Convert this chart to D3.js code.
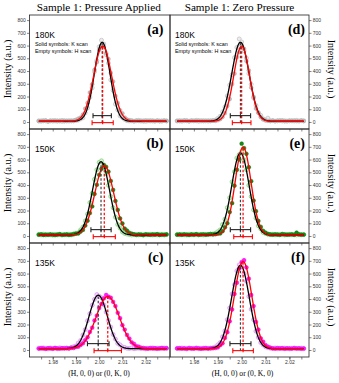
<!DOCTYPE html>
<html><head><meta charset="utf-8">
<script src="https://cdn.jsdelivr.net/npm/d3@7/dist/d3.min.js"></script>
<style>body{margin:0;background:#fff}svg{display:block}</style>
</head><body>
<svg id="chart" width="339" height="383"></svg>
<script>
// ---------------- data ----------------
const columnTitles = ["Sample 1: Pressure Applied", "Sample 1: Zero Pressure"];
const panelLetters = ["(a)", "(b)", "(c)", "(d)", "(e)", "(f)"];
const temperatures = ["180K", "150K", "135K", "180K", "150K", "135K"];
const legendLines = ["Solid symbols: K scan", "Empty symbols: H scan"];
const yTickValues = [0, 100, 200, 300, 400, 500, 600, 700, 800];
const xTickValues = [1.98, 1.99, 2.00, 2.01, 2.02];
const xMinorTicks = [1.975, 1.98, 1.985, 1.99, 1.995, 2.00, 2.005, 2.01, 2.015, 2.02, 2.025, 2.03];
const xTitle = "(H, 0, 0) or (0, K, 0)";
const yTitle = "Intensity (a.u.)";

// scan positions (left column / right column)
const qLeft = [1.974,1.975,1.976,1.977,1.978,1.979,1.980,1.981,1.982,1.983,1.984,1.985,1.986,1.987,1.988,1.989,
  1.990,1.991,1.992,1.993,1.994,1.995,1.996,1.997,1.998,1.999,2.000,2.001,2.002,2.003,2.004,2.005,2.006,2.007,2.008,2.009,
  2.010,2.011,2.012,2.013,2.014,2.015,2.016,2.017,2.018,2.019,2.020,2.021,2.022,2.023,2.024,2.025,2.026,2.027,2.028,2.029];
const qRight = [1.973,1.974,1.975,1.976,1.977,1.978,1.979,1.980,1.981,1.982,1.983,1.984,1.985,1.986,1.987,1.988,1.989,
  1.990,1.991,1.992,1.993,1.994,1.995,1.996,1.997,1.998,1.999,2.000,2.001,2.002,2.003,2.004,2.005,2.006,2.007,2.008,2.009,
  2.010,2.011,2.012,2.013,2.014,2.015,2.016,2.017,2.018,2.019,2.020,2.021,2.022,2.023,2.024,2.025,2.026];

// H scans (empty symbols)
const hScanA = [9,6,11,8,4,10,7,12,6,9,5,11,8,7,10,9,
  12,15,24,33,72,110,195,268,395,482,590,642,612,528,462,330,248,140,96,48,34,20,10,
  8,11,6,9,13,7,10,5,9,12,8,6,10,9,7,11,8];
const hScanB = [12,9,14,8,11,10,7,13,9,12,8,11,10,14,9,
  16,22,25,48,70,118,172,262,335,445,520,578,590,548,490,398,310,222,148,90,62,32,20,15,
  11,8,13,10,9,12,7,11,10,13,8,12,9,11,10,8,12];
const hScanC = [14,10,16,12,9,15,11,13,10,17,12,14,
  15,13,20,26,32,55,74,118,160,230,285,352,398,435,422,410,355,298,232,180,122,86,52,40,24,20,14,
  12,16,10,13,15,11,14,9,13,12,16,10,14,12,11,15,13];
const hScanD = [8,11,6,9,12,7,10,9,13,6,8,11,9,7,
  10,12,15,28,45,80,118,205,290,372,505,585,652,628,560,502,380,296,188,130,74,52,25,18,30,9,
  11,7,9,12,8,10,6,9,11,8,13,7,10,9];
const hScanE = [12,9,13,10,8,14,11,9,12,10,13,8,11,12,
  14,16,22,34,48,90,132,222,300,425,505,612,640,662,598,520,398,310,205,140,80,55,28,20,14,
  11,13,9,12,10,14,8,11,13,10,12,9,14,11,11];
const hScanF = [13,10,15,12,9,14,11,13,16,10,12,14,11,13,
  15,17,24,40,58,104,150,238,330,440,512,622,668,655,600,540,420,320,238,148,100,58,40,25,18,14,
  12,15,10,13,11,14,12,9,13,15,11,12,14,10];

// K scans (solid symbols)
const kScanA = [7,10,8,12,6,9,11,7,10,8,13,6,9,11,8,10,
  17,26,35,58,105,150,232,296,410,470,566,598,590,540,495,385,318,205,150,92,68,35,20,14,
  9,7,11,8,10,6,12,9,7,10,8,11,6,9,10,8];
const kScanB = [10,13,8,11,9,12,10,7,11,14,9,10,12,8,11,
  14,18,20,35,48,82,120,180,232,330,402,480,528,558,542,505,432,362,275,205,138,98,58,42,25,18,13,
  9,12,10,8,13,11,9,12,10,14,8,11,10,12];
const kScanC = [11,15,12,9,14,13,10,16,12,11,14,13,
  14,12,17,16,24,26,40,52,78,100,142,175,232,270,330,362,405,432,418,410,378,345,292,250,195,160,118,90,60,48,30,26,18,15,
  13,11,15,12,14,10,13,16,12,14];
const kScanD = [9,7,10,12,8,6,11,9,8,12,10,7,9,11,8,
  10,9,14,22,40,70,125,180,298,380,510,548,602,575,478,405,270,198,105,72,38,20,12,9,
  8,11,7,10,9,12,6,9,10,8,11,7,9,12,8];
const kScanE = [10,12,9,13,11,8,12,10,14,9,11,13,10,12,15,
  12,14,18,20,38,68,100,188,258,395,520,600,725,690,645,540,430,278,195,118,72,40,26,16,
  12,10,13,11,9,14,12,10,11,13,9,26,12,10,11];
const kScanF = [12,14,11,13,10,15,12,11,14,13,10,12,15,11,13,
  14,16,20,38,52,95,140,225,318,440,528,640,690,705,648,560,432,345,220,160,92,65,38,26,18,
  13,11,15,12,14,10,13,12,11,14,12,13,10,12];

// Gaussian fit parameters (black = H fit, red = K fit)
const fitCenterH = [2.0013, 2.0008, 1.9996, 1.9995, 1.9995, 1.9995];
const fitPeakH   = [620, 575, 420, 620, 645, 655];
const fitFwhmH   = [0.0079, 0.0087, 0.0093, 0.0085, 0.0085, 0.0088];
const fitCenterK = [2.0015, 2.0022, 2.0037, 2.0000, 2.0006, 2.0006];
const fitPeakK   = [590, 545, 410, 590, 690, 685];
const fitFwhmK   = [0.0091, 0.0095, 0.0118, 0.0078, 0.0078, 0.0086];
const fitBase    = [6, 8, 10, 6, 8, 10];
const barLevelH = 50, barLevelK = -5;

const hScans = [hScanA, hScanB, hScanC, hScanD, hScanE, hScanF];
const kScans = [kScanA, kScanB, kScanC, kScanD, kScanE, kScanF];

// ---------------- styles ----------------
const rowStyles = [
  {hFill: "#ececec", hStroke: "#c4c4c4", kFill: "#bdbdbd", kStroke: "#a8a8a8"},
  {hFill: "#d4f2cc", hStroke: "#86d47e", kFill: "#148c14", kStroke: "#0a6e0a"},
  {hFill: "#f3d2fb", hStroke: "#dc96f0", kFill: "#ff1aff", kStroke: "#e600e6"}
];
const serif = "'Liberation Serif','Times New Roman',serif";
const sans = "'Liberation Sans',Arial,sans-serif";

// ---------------- layout ----------------
const svg = d3.select("#chart");
const colRange = [[29.5, 170], [170, 309]];
const colDomain = [[1.970, 2.0305], [1.970, 2.0282]];
const rowTop = [15, 129, 243];
const panelH = 114;
const yDomain = [-55, 840];
const scans = [qLeft, qRight];

function gauss(q, c, a, f, b) {
  return b + a * Math.exp(-4 * Math.LN2 * (q - c) * (q - c) / (f * f));
}

for (let col = 0; col < 2; col++) {
  const x = d3.scaleLinear().domain(colDomain[col]).range(colRange[col]);
  const q = scans[col];
  // column title
  svg.append("text")
    .attr("x", (colRange[col][0] + colRange[col][1]) / 2 - (col === 0 ? 1 : 0))
    .attr("y", 11)
    .attr("text-anchor", "middle")
    .attr("font-family", serif).attr("font-size", 11.2)
    .text(columnTitles[col]);

  for (let row = 0; row < 3; row++) {
    const p = col * 3 + row;
    const st = rowStyles[row];
    const y0 = rowTop[row];
    const y = d3.scaleLinear().domain(yDomain).range([y0 + panelH, y0]);
    const g = svg.append("g");

    // frame
    g.append("rect")
      .attr("x", colRange[col][0]).attr("y", y0)
      .attr("width", colRange[col][1] - colRange[col][0]).attr("height", panelH)
      .attr("fill", "none").attr("stroke", "#222").attr("stroke-width", 0.8);

    // y axis
    const yAxis = (col === 0 ? d3.axisLeft(y) : d3.axisRight(y))
      .tickValues(yTickValues).tickSize(2.5).tickPadding(1.2);
    const ya = g.append("g")
      .attr("transform", `translate(${col === 0 ? colRange[0][0] : colRange[1][1]},0)`)
      .call(yAxis);
    ya.select(".domain").remove();
    ya.selectAll("line").attr("stroke", "#333").attr("stroke-width", 0.6);
    ya.selectAll("text").attr("font-family", sans).attr("font-size", 5).attr("fill", "#333");

    // x ticks at bottom of every panel
    const xa = g.append("g")
      .attr("transform", `translate(0,${y0 + panelH})`)
      .call(d3.axisBottom(x).tickValues(xMinorTicks.filter(v => v <= colDomain[col][1]))
        .tickSize(2.5).tickFormat(""));
    xa.select(".domain").remove();
    xa.selectAll("line").attr("stroke", "#333").attr("stroke-width", 0.6);
    if (row === 2) {
      const xl = g.append("g")
        .attr("transform", `translate(0,${y0 + panelH})`)
        .call(d3.axisBottom(x).tickValues(xTickValues).tickSize(2.5).tickPadding(0.8)
          .tickFormat(d3.format(".2f")));
      xl.select(".domain").remove();
      xl.selectAll("line").attr("stroke", "#333").attr("stroke-width", 0.6);
      xl.selectAll("text").attr("font-family", sans).attr("font-size", 5).attr("fill", "#333");
    }

    // y title
    const yc = y0 + panelH / 2 - 3;
    if (col === 0) {
      g.append("text").attr("transform", `translate(11,${yc}) rotate(-90)`)
        .attr("text-anchor", "middle").attr("font-family", serif).attr("font-size", 10)
        .text(yTitle);
    } else {
      g.append("text").attr("transform", `translate(328,${yc}) rotate(90)`)
        .attr("text-anchor", "middle").attr("font-family", serif).attr("font-size", 10)
        .text(yTitle);
    }

    // points: H (empty) then K (solid)
    g.append("g").selectAll("circle").data(q.map((v, i) => [v, hScans[p][i]]))
      .join("circle")
      .attr("cx", d => x(d[0])).attr("cy", d => y(d[1])).attr("r", 2)
      .attr("fill", st.hFill).attr("stroke", st.hStroke).attr("stroke-width", 0.8);
    g.append("g").selectAll("circle").data(q.map((v, i) => [v, kScans[p][i]]))
      .join("circle")
      .attr("cx", d => x(d[0])).attr("cy", d => y(d[1])).attr("r", 1.9)
      .attr("fill", st.kFill).attr("stroke", st.kStroke).attr("stroke-width", 0.5);

    // fit curves
    const qFine = d3.range(q[0], q[q.length - 1] + 1e-9, 0.0002);
    const line = d3.line().x(d => x(d[0])).y(d => y(d[1]));
    g.append("path")
      .attr("d", line(qFine.map(v => [v, gauss(v, fitCenterH[p], fitPeakH[p], fitFwhmH[p], fitBase[p])])))
      .attr("fill", "none").attr("stroke", "#000").attr("stroke-width", 1.3);
    g.append("path")
      .attr("d", line(qFine.map(v => [v, gauss(v, fitCenterK[p], fitPeakK[p], fitFwhmK[p], fitBase[p])])))
      .attr("fill", "none").attr("stroke", "#ff0000").attr("stroke-width", 1.3);

    // dashed centre lines
    g.append("line")
      .attr("x1", x(fitCenterH[p])).attr("x2", x(fitCenterH[p]))
      .attr("y1", y(barLevelK)).attr("y2", y(fitPeakH[p] + fitBase[p]))
      .attr("stroke", "#444").attr("stroke-width", 1.2).attr("stroke-dasharray", "2.5,1.8");
    g.append("line")
      .attr("x1", x(fitCenterK[p])).attr("x2", x(fitCenterK[p]))
      .attr("y1", y(barLevelK)).attr("y2", y(fitPeakK[p] + fitBase[p]))
      .attr("stroke", "#ff0000").attr("stroke-width", 1.2).attr("stroke-dasharray", "2.5,1.8");

    // FWHM bars
    const bars = [
      {c: fitCenterH[p], f: fitFwhmH[p], lv: barLevelH, col: "#222"},
      {c: fitCenterK[p], f: fitFwhmK[p], lv: barLevelK, col: "#ff0000"}
    ];
    bars.forEach(b => {
      const bg = g.append("g").attr("stroke", b.col).attr("stroke-width", 1.1);
      const xl = x(b.c - b.f / 2), xr = x(b.c + b.f / 2), xm = x(b.c), yy = y(b.lv);
      bg.append("line").attr("x1", xl).attr("x2", xr).attr("y1", yy).attr("y2", yy);
      [xl, xr].forEach(xx => bg.append("line").attr("x1", xx).attr("x2", xx)
        .attr("y1", yy - 2.5).attr("y2", yy + 2.5));
      bg.append("line").attr("x1", xm).attr("x2", xm).attr("y1", yy - 1.5).attr("y2", yy + 1.5);
    });

    // temperature label
    g.append("text")
      .attr("x", colRange[col][0] + (col === 0 ? 5.5 : 5)).attr("y", y0 + 22.5)
      .attr("font-family", sans).attr("font-size", 8.5)
      .text(temperatures[p]);
    // panel letter
    g.append("text")
      .attr("x", colRange[col][1] - (col === 0 ? 6.5 : 4)).attr("y", y0 + 18.5)
      .attr("text-anchor", "end")
      .attr("font-family", serif).attr("font-weight", "bold").attr("font-size", 14)
      .text(panelLetters[p]);
    // legend text
    if (row === 0) {
      legendLines.forEach((t, i) => {
        g.append("text")
          .attr("x", colRange[col][0] + (col === 0 ? 5.5 : 5)).attr("y", y0 + 30.5 + i * 7.8)
          .attr("font-family", sans).attr("font-size", 5.4)
          .text(t);
      });
    }
  }
  // x title
  svg.append("text")
    .attr("x", col === 0 ? 99 : 242.5).attr("y", 376)
    .attr("text-anchor", "middle")
    .attr("font-family", serif).attr("font-size", 7.6)
    .text(xTitle);
}
</script>
</body></html>
